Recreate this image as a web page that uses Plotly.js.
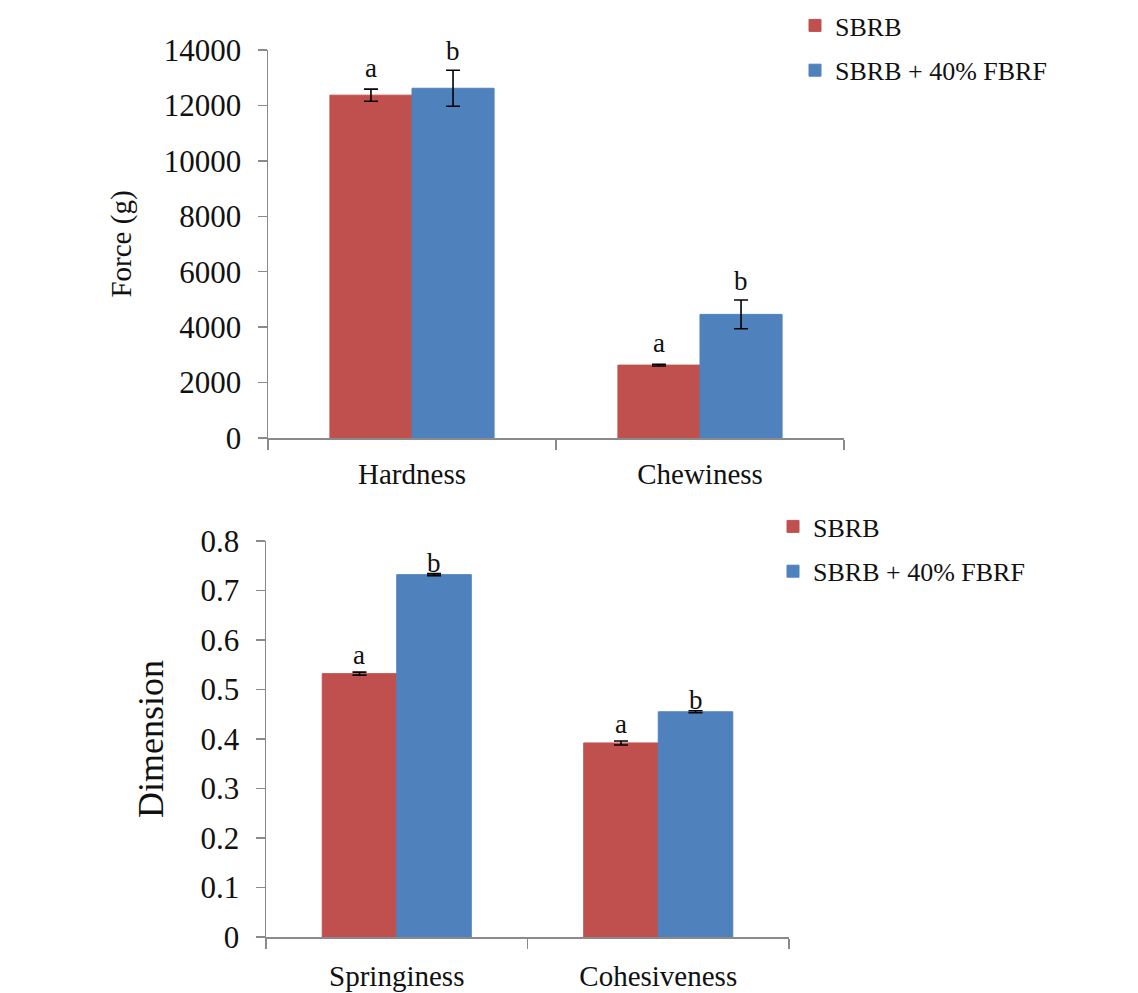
<!DOCTYPE html>
<html>
<head>
<meta charset="utf-8">
<script src="https://cdn.plot.ly/plotly-3.0.1.min.js"></script>
<style>
  html, body { margin: 0; padding: 0; background: #ffffff; }
  #chart { width: 1138px; height: 993px; }
</style>
</head>
<body>
<div id="chart"></div>
<script>
// ---- Data ----
const seriesNames = ['SBRB', 'SBRB + 40% FBRF'];

const categoriesTop = ['Hardness', 'Chewiness'];
const sbrbTop = [12370, 2630];
const sbrbTopErr = [220, 30];
const fbrfTop = [12620, 4460];
const fbrfTopErr = [650, 520];
const lettersTopSBRB = ['a', 'a'];
const lettersTopFBRF = ['b', 'b'];

const categoriesBottom = ['Springiness', 'Cohesiveness'];
const sbrbBottom = [0.532, 0.392];
const sbrbBottomErr = [0.003, 0.004];
const fbrfBottom = [0.732, 0.455];
const fbrfBottomErr = [0.002, 0.002];
const lettersBottomSBRB = ['a', 'a'];
const lettersBottomFBRF = ['b', 'b'];

const yTicksTop = [0, 2000, 4000, 6000, 8000, 10000, 12000, 14000];
const yTicksBottom = [0, 0.1, 0.2, 0.3, 0.4, 0.5, 0.6, 0.7, 0.8];

// ---- Style ----
const RED = '#C0504D';
const BLUE = '#4F81BD';
const FONT = 'Liberation Serif';
const AXIS_COLOR = '#8a8a8a';
const BARGAP = 0.43;
const W = 1138, H = 993;

function barTrace(name, cats, vals, errs, color, xa, ya, legendName, showleg, group) {
  return {
    type: 'bar', name: name, x: cats, y: vals,
    xaxis: xa, yaxis: ya, legend: legendName, showlegend: showleg,
    legendgroup: group,
    marker: { color: color, line: { color: color, width: 1 } },
    error_y: { type: 'data', array: errs, visible: true, color: '#000000', thickness: 1.6, width: 7 },
    hoverinfo: 'x+y+name'
  };
}

const traces = [
  barTrace(seriesNames[0], categoriesTop, sbrbTop, sbrbTopErr, RED, 'x', 'y', 'legend', true, 'g1'),
  barTrace(seriesNames[1], categoriesTop, fbrfTop, fbrfTopErr, BLUE, 'x', 'y', 'legend', true, 'g2'),
  barTrace(seriesNames[0], categoriesBottom, sbrbBottom, sbrbBottomErr, RED, 'x2', 'y2', 'legend2', true, 'g3'),
  barTrace(seriesNames[1], categoriesBottom, fbrfBottom, fbrfBottomErr, BLUE, 'x2', 'y2', 'legend2', true, 'g4')
];

// letters placed above each bar's error bar
const half = (1 - BARGAP) / 4;
function letterAnns(vals, errs, letters, offset, xref, yref, shift) {
  return vals.map((v, i) => ({
    x: i + offset, y: v + errs[i], xref: xref, yref: yref,
    text: letters[i], showarrow: false, yanchor: 'bottom', yshift: shift,
    font: { family: FONT, size: 27, color: '#111' }
  }));
}
const annotations = [].concat(
  letterAnns(sbrbTop, sbrbTopErr, lettersTopSBRB, -half, 'x', 'y', 4),
  letterAnns(fbrfTop, fbrfTopErr, lettersTopFBRF, half, 'x', 'y', 2),
  letterAnns(sbrbBottom, sbrbBottomErr, lettersBottomSBRB, -half, 'x2', 'y2', 0),
  letterAnns(fbrfBottom, fbrfBottomErr, lettersBottomFBRF, half, 'x2', 'y2', -6)
);

function px2x(p) { return p / W; }
function px2y(p) { return 1 - p / H; }

const xCommon = {
  type: 'category', range: [-0.5, 1.5], tickson: 'boundaries',
  showline: true, linecolor: AXIS_COLOR, linewidth: 1.5,
  ticks: 'outside', ticklen: 10, tickwidth: 1.5, tickcolor: AXIS_COLOR,
  ticklabelstandoff: 10,
  showgrid: false, zeroline: false,
  tickfont: { family: FONT, size: 29, color: '#111' },
  fixedrange: true
};
const yCommon = {
  showline: true, linecolor: AXIS_COLOR, linewidth: 1.5,
  ticks: 'outside', ticklen: 9, tickwidth: 1.5, tickcolor: AXIS_COLOR,
  ticklabelstandoff: 10,
  showgrid: false, zeroline: false, fixedrange: true
};

const layout = {
  width: W, height: H,
  margin: { l: 0, r: 0, t: 0, b: 0 },
  paper_bgcolor: '#ffffff', plot_bgcolor: '#ffffff',
  barmode: 'group', bargap: BARGAP, bargroupgap: 0,
  font: { family: FONT, color: '#111' },
  xaxis: Object.assign({}, xCommon, {
    domain: [px2x(268), px2x(844)], anchor: 'y'
  }),
  yaxis: Object.assign({}, yCommon, {
    domain: [px2y(438), px2y(50)], anchor: 'x',
    range: [0, 14000], tickvals: yTicksTop, tickformat: 'd',
    tickfont: { family: FONT, size: 31, color: '#111' },
    title: { text: 'Force (g)', font: { family: FONT, size: 29, color: '#111' }, standoff: 23 }
  }),
  xaxis2: Object.assign({}, xCommon, {
    domain: [px2x(266), px2x(789)], anchor: 'y2', ticklabelstandoff: 13
  }),
  yaxis2: Object.assign({}, yCommon, {
    domain: [px2y(937), px2y(541)], anchor: 'x2',
    range: [0, 0.8], tickvals: yTicksBottom,
    tickfont: { family: FONT, size: 31, color: '#111' },
    title: { text: 'Dimension', font: { family: FONT, size: 36, color: '#111' }, standoff: 26 }
  }),
  legend: {
    x: px2x(795), y: px2y(2), xanchor: 'left', yanchor: 'top',
    orientation: 'v', traceorder: 'grouped', tracegroupgap: 8,
    bgcolor: 'rgba(0,0,0,0)', borderwidth: 0,
    font: { family: FONT, size: 26, color: '#111' }
  },
  legend2: {
    x: px2x(773), y: px2y(503), xanchor: 'left', yanchor: 'top',
    orientation: 'v', traceorder: 'grouped', tracegroupgap: 8,
    bgcolor: 'rgba(0,0,0,0)', borderwidth: 0,
    font: { family: FONT, size: 26, color: '#111' }
  },
  annotations: annotations
};

Plotly.newPlot('chart', traces, layout, { displayModeBar: false, staticPlot: true });
</script>
</body>
</html>
